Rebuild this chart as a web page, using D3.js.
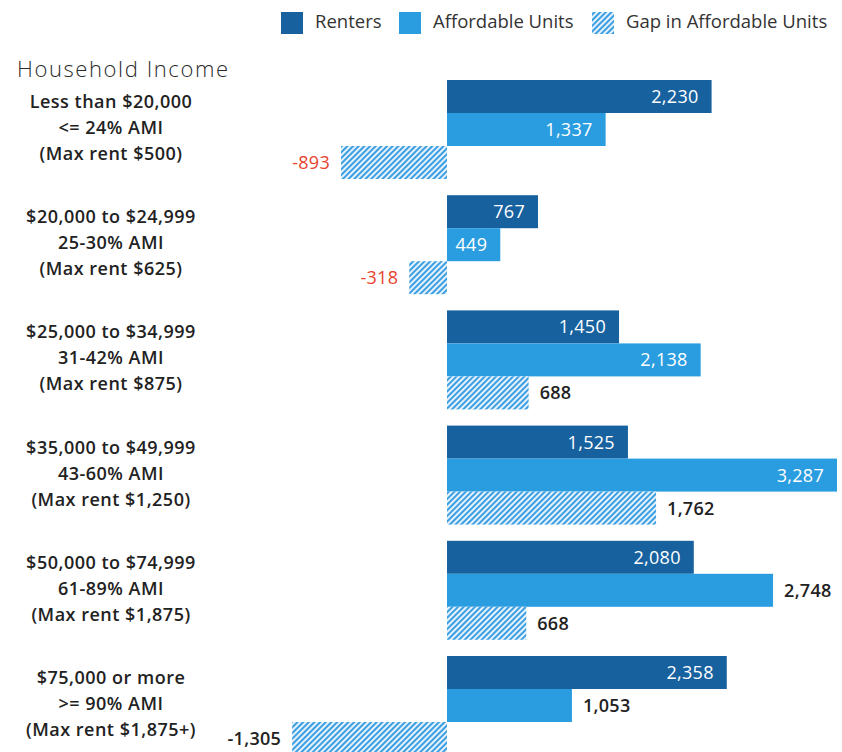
<!DOCTYPE html>
<html>
<head>
<meta charset="utf-8">
<script src="https://cdn.jsdelivr.net/npm/d3@7"></script>
<style>
  html, body { margin: 0; padding: 0; background: #fff; }
  svg { display: block; font-family: "Open Sans", sans-serif; }
</style>
</head>
<body>
<div id="chart"></div>
<script>
// Household income brackets (three label lines each)
const incomeBands = [
  ["Less than $20,000", "<= 24% AMI", "(Max rent $500)"],
  ["$20,000 to $24,999", "25-30% AMI", "(Max rent $625)"],
  ["$25,000 to $34,999", "31-42% AMI", "(Max rent $875)"],
  ["$35,000 to $49,999", "43-60% AMI", "(Max rent $1,250)"],
  ["$50,000 to $74,999", "61-89% AMI", "(Max rent $1,875)"],
  ["$75,000 or more", ">= 90% AMI", "(Max rent $1,875+)"]
];
const renters = [2230, 767, 1450, 1525, 2080, 2358];
const affordableUnits = [1337, 449, 2138, 3287, 2748, 1053];
const gap = [-893, -318, 688, 1762, 668, -1305];
const seriesNames = ["Renters", "Affordable Units", "Gap in Affordable Units"];

const W = 842, H = 752;
const colors = { renters: "#17619f", affordable: "#2a9de0", hatch: "#3b9fe2" };

const svg = d3.select("#chart").append("svg")
  .attr("width", W).attr("height", H);

// diagonal hatch for the gap bars
const defs = svg.append("defs");
const pat = defs.append("pattern")
  .attr("id", "hatch").attr("patternUnits", "userSpaceOnUse")
  .attr("width", 4).attr("height", 4)
  .attr("patternTransform", "rotate(45)");
pat.append("rect").attr("width", 4).attr("height", 4).attr("fill", "#e6f2fb");
pat.append("rect").attr("width", 2).attr("height", 4).attr("fill", colors.hatch);

const x = d3.scaleLinear().domain([0, 3287]).range([447, 837]);
const y = d3.scaleBand().domain(d3.range(incomeBands.length))
  .range([80, 755]).paddingInner(0.1406).paddingOuter(0);
const sub = d3.scaleBand().domain([0, 1, 2]).range([0, y.bandwidth()]);

const comma = d3.format(",");
const fmt = v => (v < 0 ? "-" : "") + comma(Math.abs(v));

const rows = incomeBands.map((b, i) => ({
  i, band: b,
  vals: [renters[i], affordableUnits[i], gap[i]]
}));

// which value labels sit outside their bar (key: series index, group index)
const outsideLabel = new Set(["1-4", "1-5"]);

const g = svg.append("g");
rows.forEach(r => {
  const gy = y(r.i);
  r.vals.forEach((v, s) => {
    const x0 = x(Math.min(0, v)), x1 = x(Math.max(0, v));
    const by = gy + sub(s);
    g.append("rect")
      .attr("x", x0).attr("y", by)
      .attr("width", x1 - x0).attr("height", sub.bandwidth())
      .attr("fill", s === 0 ? colors.renters : s === 1 ? colors.affordable : "url(#hatch)");
    const cy = by + sub.bandwidth() / 2 + 6.5;
    const t = g.append("text").attr("y", cy).attr("font-size", 18)
      .attr("letter-spacing", 0.3).text(fmt(v));
    if (s < 2 && !outsideLabel.has(s + "-" + r.i)) {
      t.attr("x", x1 - 13).attr("text-anchor", "end").attr("fill", "#fff").attr("font-weight", 400);
    } else if (v >= 0) {
      t.attr("x", x1 + 11).attr("text-anchor", "start").attr("fill", "#222").attr("font-weight", 600);
    } else {
      t.attr("x", x0 - 11).attr("text-anchor", "end")
        .attr("fill", r.i === 5 ? "#222" : "#e8432e").attr("font-weight", r.i === 5 ? 600 : 400);
    }
  });

  // bracket label
  const cy = gy + y.bandwidth() / 2;
  const lbl = g.append("text").attr("text-anchor", "middle")
    .attr("font-size", 18).attr("font-weight", 600).attr("fill", "#222")
    .attr("letter-spacing", 0.5);
  r.band.forEach((line, k) => {
    lbl.append("tspan").attr("x", 111).attr("y", cy + (k - 1) * 26 + 4.5).text(line);
  });
});

// axis title
svg.append("text").attr("x", 17).attr("y", 77)
  .attr("font-size", 22).attr("font-weight", 300).attr("fill", "#2a2a2a")
  .attr("textLength", 211).attr("lengthAdjust", "spacing")
  .text("Household Income");

// legend
const legendX = [281, 399, 592];
const legend = svg.append("g");
seriesNames.forEach((name, k) => {
  legend.append("rect").attr("x", legendX[k]).attr("y", 12)
    .attr("width", 22).attr("height", 22)
    .attr("fill", k === 0 ? colors.renters : k === 1 ? colors.affordable : "url(#hatch)");
  legend.append("text").attr("x", legendX[k] + 34).attr("y", 28)
    .attr("font-size", 18.5).attr("fill", "#333").text(name);
});
</script>
</body>
</html>
